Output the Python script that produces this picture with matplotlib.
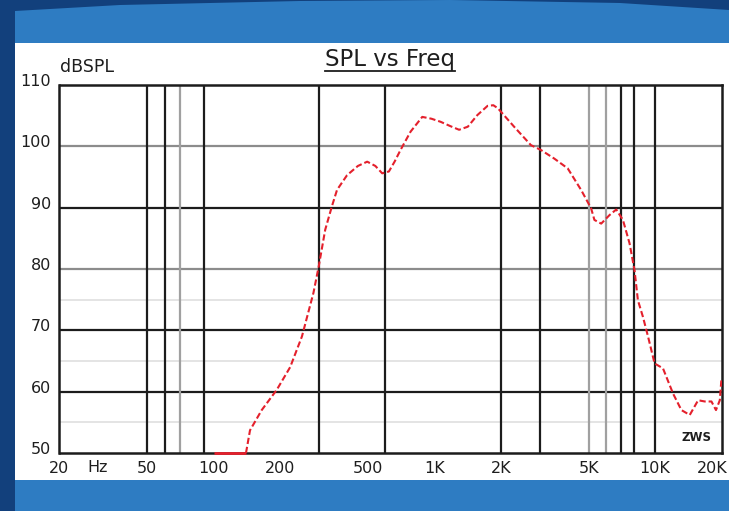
import numpy as np
import matplotlib
matplotlib.use("Agg")
import matplotlib.pyplot as plt
from matplotlib.patches import Polygon, Rectangle
from matplotlib.transforms import ScaledTranslation

# ---- data ----
freq_hz = [100, 120, 140, 146, 165, 193, 222, 251, 283, 299, 320, 343, 362, 402, 450,
           496, 540, 580, 622, 660, 702, 780, 881, 970, 1067, 1180, 1294, 1417, 1566,
           1742, 1850, 1940, 2297, 2737, 3040, 3494, 4020, 4620, 5130, 5310, 5700,
           6220, 6670, 7150, 7660, 8070, 8360, 8810, 9290, 9950, 10860, 12060, 13160,
           14360, 15670, 16800, 18010, 18880, 19650, 20000]
spl_db = [50, 50, 50, 53.7, 57, 60.3, 64.0, 69.0, 76.1, 80.4, 86.4, 90.2, 92.9, 95.3, 96.8,
          97.5, 96.8, 95.6, 95.9, 97.5, 99.4, 102.4, 104.8, 104.5, 104.0, 103.3, 102.7, 103.2, 105.1,
          106.6, 106.7, 106.2, 103.2, 100.2, 99.4, 98.0, 96.4, 92.9, 89.9, 88.0, 87.4,
          88.8, 89.7, 88.0, 84.2, 79.8, 74.9, 72.2, 69.0, 64.6, 63.8, 59.7, 57.0,
          56.2, 58.6, 58.4, 58.4, 57.0, 58.6, 62.2]

y_ticks = [50, 60, 70, 80, 90, 100, 110]
y_tick_labels = ["50", "60", "70", "80", "90", "100", "110"]
x_ticks = [20, 50, 100, 200, 500, 1000, 2000, 5000, 10000, 20000]
x_tick_labels = ["20", "50", "100", "200", "500", "1K", "2K", "5K", "10K", "20K"]

vlines_dark = [50, 60, 90, 300, 600, 2000, 3000, 7000, 8000, 10000]
vlines_gray = [70, 5000, 6000]
hlines_dark = [60, 70, 90]
hlines_gray = [80, 100]
hlines_faint = [55, 65, 75]

# ---- figure ----
W, H = 729, 511
fig = plt.figure(figsize=(W / 100, H / 100), dpi=100)
navy = "#12407c"
light = "#2e7cc2"
fig.patch.set_facecolor(navy)

def fx(x):
    return x / W

def fy(y):
    return 1 - y / H

top_edge = [(15, 11), (120, 5), (300, 1), (450, 0), (620, 3), (729, 10)]
band = [(fx(x), fy(y)) for x, y in top_edge] + [(fx(729), fy(43)), (fx(15), fy(43))]
fig.patches.append(Polygon(band, closed=True, transform=fig.transFigure,
                           facecolor=light, edgecolor="none", zorder=-10))
fig.patches.append(Rectangle((fx(15), fy(480)), fx(729) - fx(15), fy(43) - fy(480),
                             transform=fig.transFigure, facecolor="white",
                             edgecolor="none", zorder=-10))
fig.patches.append(Rectangle((fx(15), 0), 1 - fx(15), fy(480),
                             transform=fig.transFigure, facecolor=light,
                             edgecolor="none", zorder=-10))

left, right, top, bottom = 59.5, 721.5, 85, 453
ax = fig.add_axes([fx(left), fy(bottom), fx(right) - fx(left), fy(top) - fy(bottom)])
ax.set_zorder(5)
ax.set_facecolor("white")
ax.set_xscale("log")
ax.set_xlim(20, 20000)
ax.set_ylim(50, 110)

for v in hlines_faint:
    ax.axhline(v, color="#e4e4e4", lw=1.4, zorder=1)
for v in hlines_gray:
    ax.axhline(v, color="#8c8c8c", lw=1.6, zorder=1)
for v in hlines_dark:
    ax.axhline(v, color="#1c1c1c", lw=1.6, zorder=1)
for v in vlines_gray:
    ax.axvline(v, color="#a0a0a0", lw=1.6, zorder=1)
for v in vlines_dark:
    ax.axvline(v, color="#1c1c1c", lw=1.6, zorder=1)

f = np.array(freq_hz, dtype=float)
s = np.array(spl_db, dtype=float)
floor = ax.get_ylim()[0]
red = "#e4202c"
# segments that lie on the floor are drawn solid, the rest dashed
on_floor = s <= floor
idx = np.where(on_floor)[0]
if len(idx) > 0:
    ax.plot(f[idx[0]:idx[-1] + 1], s[idx[0]:idx[-1] + 1], color=red, lw=2.0,
            solid_capstyle="butt", zorder=3, clip_on=False)
start = idx[-1] if len(idx) > 0 else 0
ax.plot(f[start:], s[start:], color=red, lw=1.5, linestyle=(0, (3.0, 1.4)), zorder=3)

for sp in ax.spines.values():
    sp.set_color("#1c1c1c")
    sp.set_linewidth(1.8)

font = "DejaVu Sans"
ax.set_yticks(y_ticks)
ax.set_yticklabels(y_tick_labels, fontsize=11.5, family=font, color="#1e1e1e")
ax.set_xticks(x_ticks)
ax.set_xticklabels(x_tick_labels, fontsize=11.5, family=font, color="#1e1e1e")
ax.minorticks_off()
ax.tick_params(axis="both", which="both", length=0)
ax.tick_params(axis="y", pad=6)
ax.tick_params(axis="x", pad=6)
off = ScaledTranslation(0, 5 / 100, fig.dpi_scale_trans)
for lab in ax.get_yticklabels():
    lab.set_transform(lab.get_transform() + off)
# keep the last x label inside the canvas
last = ax.get_xticklabels()[-1]
last.set_ha("right")
last.set_transform(last.get_transform() + ScaledTranslation(6 / 100, 0, fig.dpi_scale_trans))

fig.text(fx(98), fy(467), "Hz", fontsize=11.5, family=font, color="#1e1e1e",
         ha="center", va="center")
fig.text(fx(87), fy(67), "dBSPL", fontsize=12.5, family=font, color="#1e1e1e",
         ha="center", va="center")
t = fig.text(fx(390), fy(59), "SPL vs Freq", fontsize=16.5, family=font,
             color="#1e1e1e", ha="center", va="center")
fig.canvas.draw()
bb = t.get_window_extent()
fig.add_artist(plt.Line2D([bb.x0 / W, bb.x1 / W], [fy(71.5), fy(71.5)],
                          transform=fig.transFigure, color="#1e1e1e", lw=1.3))
fig.text(fx(697), fy(437), "ZWS", fontsize=8.5, family=font, weight="bold",
         color="#1e1e1e", ha="center", va="center", zorder=10)

fig.savefig("out.png", dpi=100, facecolor=fig.get_facecolor())
